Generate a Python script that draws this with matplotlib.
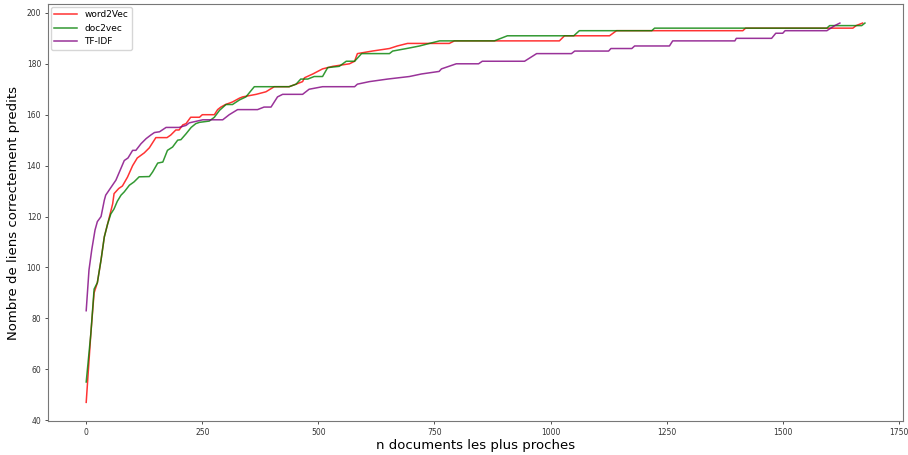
import matplotlib
matplotlib.use("Agg")
import matplotlib.pyplot as plt

# word2Vec
w2v_x = [0, 10, 17, 24, 32, 39, 46, 57, 60, 70, 78, 89, 100, 110, 125, 136, 150, 174, 182, 193, 200, 208, 215, 225,
         244, 250, 276, 283, 290, 300, 315, 330, 337, 366, 387, 405, 437, 452, 466, 470, 488, 509, 531, 567, 578, 584,
         616, 653, 670, 692, 782, 793, 1019, 1030, 1127, 1142, 1414, 1420, 1651, 1658, 1672]
w2v_y = [47, 74, 90, 94, 103, 112, 117, 125, 129, 131, 132, 135.5, 140, 143, 145, 147, 151, 151, 152, 154, 154, 156, 156.5, 159,
         159, 160, 160, 162, 163, 164, 165, 166.5, 167, 168, 169, 171, 171, 172, 173, 174.5, 176, 178, 179, 180, 181, 184,
         185, 186, 187, 188, 188, 189, 189, 191, 191, 193, 193, 194, 194, 195, 196]

# doc2vec
d2v_x = [0, 10, 17, 24, 32, 39, 46, 53, 60, 67, 75, 82, 93, 103, 114, 136, 143, 154, 165, 175, 186, 197, 204, 215,
         226, 236, 244, 265, 276, 287, 301, 315, 330, 344, 362, 437, 452, 462, 477, 491, 509, 520, 545, 560, 578, 593,
         653, 660, 690, 718, 739, 761, 879, 893, 907, 1050, 1062, 1218, 1224, 1595, 1601, 1670, 1677]
d2v_y = [55, 74, 91.5, 94, 103, 112, 117, 121, 123, 126, 128.4, 129.7, 132.3, 133.6, 135.6, 135.7, 137.5, 141, 141.4, 146, 147.3, 150, 150.2, 152.5,
         155, 156.5, 157, 157.5, 159, 161.7, 164, 164, 165.8, 167, 171, 171, 172, 174, 174, 175, 175, 178.5, 179, 181, 181, 184,
         184, 185, 186, 187, 188, 189, 189, 190, 191, 191, 193, 193, 194, 194, 195, 195, 196]

# TF-IDF
tfidf_x = [0, 6, 12, 19, 24, 32, 39, 42, 64, 82, 90, 100, 107, 118, 129, 139, 147, 158, 172, 200, 215, 222, 251,
           294, 308, 326, 369, 383, 398, 412, 423, 466, 480, 509, 578, 584, 610, 649, 696, 722, 760, 765, 797, 845, 853,
           944, 970, 1045, 1052, 1125, 1130, 1175, 1181, 1256, 1263, 1397, 1400, 1476, 1485, 1500, 1505, 1595, 1612, 1623]
tfidf_y = [83, 99, 107, 114.7, 118, 120, 126.4, 128.4, 134.3, 142, 143, 146, 146, 148.6, 150.6, 152, 153, 153.3, 155, 155, 155.8, 156.8, 158,
           158, 160, 162, 162, 163, 163, 167, 168, 168, 170, 171, 171, 172, 173, 174, 175, 176, 177, 178, 180, 180, 181,
           181, 184, 184, 185, 185, 186, 186, 187, 187, 189, 189, 190, 190, 192, 192, 193, 193, 195, 196]

series = [("word2Vec", w2v_x, w2v_y, "red"),
          ("doc2vec", d2v_x, d2v_y, "green"),
          ("TF-IDF", tfidf_x, tfidf_y, "purple")]

fig = plt.figure(figsize=(9.08, 4.55), dpi=100)
ax = fig.add_axes([0.053, 0.074, 0.941, 0.917])
for name, xs, ys, col in series:
    ax.plot(xs, ys, color=col, alpha=0.8, lw=1.1, label=name)

ax.set_xlim(-82, 1758)
ax.set_xticks([0, 250, 500, 750, 1000, 1250, 1500, 1750])
ax.set_yticks([40, 60, 80, 100, 120, 140, 160, 180, 200])
ax.tick_params(labelsize=5.5, length=2.5, width=0.6, colors="#333333", pad=2.5)
for s in ax.spines.values():
    s.set_color("#777777")
    s.set_linewidth(0.8)
ax.set_xlabel("n documents les plus proches", fontsize=9.5, labelpad=1)
ax.set_ylabel("Nombre de liens correctement predits", fontsize=9.5, labelpad=5)
ax.legend(loc="upper left", fontsize=6.5, handlelength=2.5, borderaxespad=0.3)

fig.savefig("out.png", dpi=100)
